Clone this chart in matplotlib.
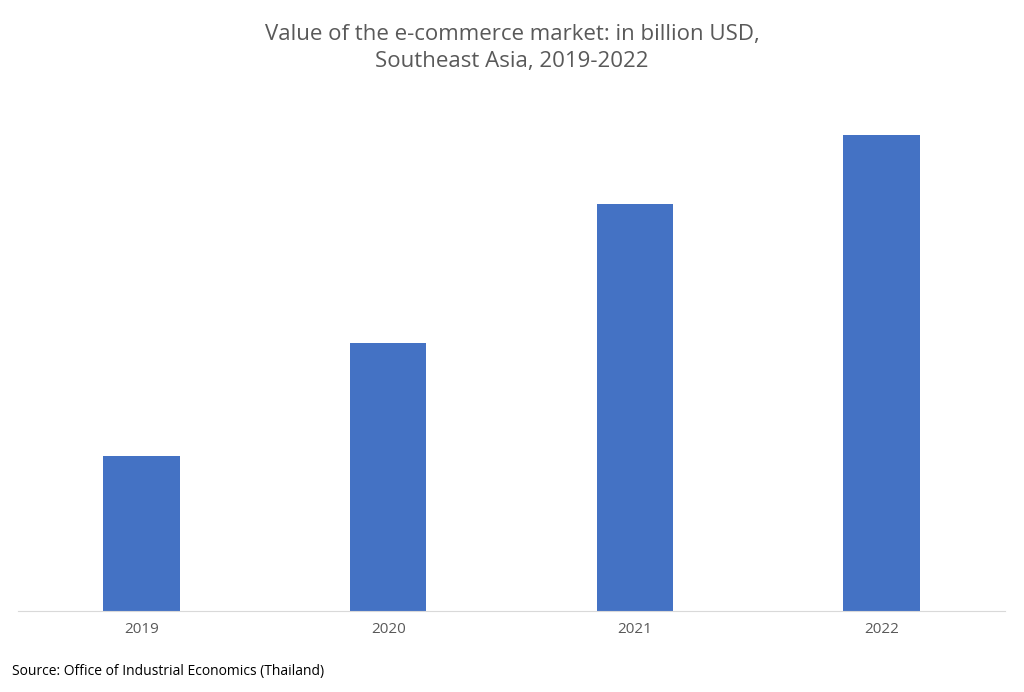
import matplotlib
matplotlib.use("Agg")
import matplotlib.pyplot as plt

years = ["2019", "2020", "2021", "2022"]
values = [38, 66, 100, 117]

plt.rcParams["font.family"] = "Open Sans"
fig = plt.figure(figsize=(10.24, 6.92), dpi=100)
ax = fig.add_axes([18/1024, 81/692, 987/1024, 1 - 81/692 - 102.5/692])
x = range(len(years))
ax.bar(x, values, width=0.31, color="#4472C4")
ax.set_xlim(-0.5, 3.5)
ax.set_ylim(0, 125)
ax.set_xticks(list(x))
ax.set_xticklabels(years, fontsize=11, color="#595959")
ax.tick_params(axis="x", length=0, pad=8)
ax.set_yticks([])
for s in ["top", "left", "right"]:
    ax.spines[s].set_visible(False)
ax.spines["bottom"].set_color("#D9D9D9")
fig.text(0.5, 0.965, "Value of the e-commerce market: in billion USD,\nSoutheast Asia, 2019-2022",
         ha="center", va="top", fontsize=16, color="#595959", linespacing=1.35)
fig.text(12/1024, 1 - 672/692, "Source: Office of Industrial Economics (Thailand)",
         ha="left", va="center", fontsize=10, color="black")
fig.savefig("out.png", dpi=100, facecolor="white")
